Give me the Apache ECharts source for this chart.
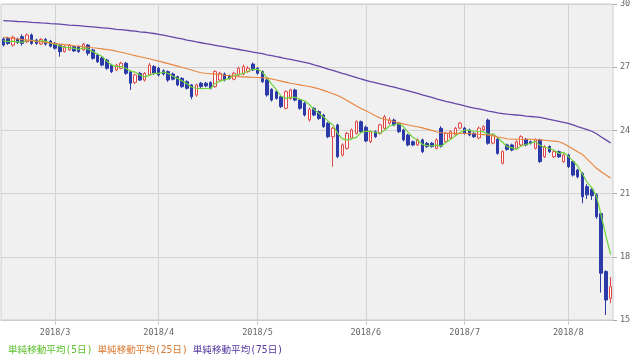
<!DOCTYPE html>
<html><head><meta charset="utf-8">
<script src="https://cdn.jsdelivr.net/npm/echarts@6/dist/echarts.min.js"></script>
<style>html,body{margin:0;padding:0;background:#fff}#c{width:633px;height:359px}</style>
</head><body><div id="c"></div>
<script>
const dates = [
'2018/2/14','2018/2/15','2018/2/16','2018/2/19','2018/2/20','2018/2/21','2018/2/22','2018/2/23','2018/2/26','2018/2/27','2018/2/28',
'2018/3/1','2018/3/2','2018/3/5','2018/3/6','2018/3/7','2018/3/8','2018/3/9','2018/3/12','2018/3/13','2018/3/14','2018/3/15','2018/3/16','2018/3/19','2018/3/20','2018/3/21','2018/3/22','2018/3/23','2018/3/26','2018/3/27','2018/3/28','2018/3/29','2018/3/30',
'2018/4/2','2018/4/3','2018/4/4','2018/4/5','2018/4/6','2018/4/9','2018/4/10','2018/4/11','2018/4/12','2018/4/13','2018/4/16','2018/4/17','2018/4/18','2018/4/19','2018/4/20','2018/4/23','2018/4/24','2018/4/25','2018/4/26','2018/4/27','2018/4/30',
'2018/5/1','2018/5/2','2018/5/3','2018/5/4','2018/5/7','2018/5/8','2018/5/9','2018/5/10','2018/5/11','2018/5/14','2018/5/15','2018/5/16','2018/5/17','2018/5/18','2018/5/21','2018/5/22','2018/5/23','2018/5/24','2018/5/25','2018/5/28','2018/5/29','2018/5/30','2018/5/31',
'2018/6/1','2018/6/4','2018/6/5','2018/6/6','2018/6/7','2018/6/8','2018/6/11','2018/6/12','2018/6/13','2018/6/14','2018/6/15','2018/6/18','2018/6/19','2018/6/20','2018/6/21','2018/6/22','2018/6/25','2018/6/26','2018/6/27','2018/6/28','2018/6/29',
'2018/7/2','2018/7/3','2018/7/4','2018/7/5','2018/7/6','2018/7/9','2018/7/10','2018/7/11','2018/7/12','2018/7/13','2018/7/16','2018/7/17','2018/7/18','2018/7/19','2018/7/20','2018/7/23','2018/7/24','2018/7/25','2018/7/26','2018/7/27','2018/7/30','2018/7/31',
'2018/8/1','2018/8/2','2018/8/3','2018/8/6','2018/8/7','2018/8/8','2018/8/9','2018/8/10','2018/8/13','2018/8/14'
];
const opens = [28.34,28.37,28.05,28.34,28.45,28.21,28.53,28.29,28.10,28.32,
28.24,28.13,28.05,27.74,27.82,27.97,27.97,27.82,28.05,27.82,
27.58,27.44,27.34,27.10,26.87,26.95,27.19,26.79,26.28,26.71,
26.39,26.63,27.03,26.95,26.83,26.79,26.68,26.55,26.47,26.31,
26.16,25.68,26.24,26.24,26.27,26.08,26.39,26.68,26.58,26.43,
26.63,26.68,26.79,27.15,26.95,26.79,26.39,25.95,25.84,25.60,
25.05,25.52,25.92,25.44,25.29,24.50,25.05,24.89,24.73,24.34,
23.70,24.26,22.83,23.15,23.63,23.86,24.41,24.15,23.47,23.94,
23.86,24.10,24.34,24.49,24.34,24.02,23.78,23.46,23.31,23.55,
23.39,23.39,23.15,24.10,23.46,23.64,23.78,24.11,24.11,24.02,
23.86,23.64,24.02,24.49,23.40,23.58,22.44,23.31,23.31,23.15,
23.31,23.58,23.46,23.15,23.55,22.75,23.23,22.75,22.99,22.52,
22.83,22.52,22.12,21.96,21.33,21.20,20.95,20.05,17.30,16.03];
const closes = [28.05,28.13,28.42,28.18,28.13,28.53,28.13,28.13,28.32,28.10,
28.00,27.90,27.74,27.97,28.05,27.77,27.74,28.09,27.66,27.42,
27.26,27.10,26.95,26.79,27.10,27.19,26.71,26.24,26.63,26.39,
26.71,27.10,26.71,26.63,26.68,26.39,26.43,26.16,26.08,26.00,
25.60,26.16,26.08,26.11,26.00,26.79,26.71,26.39,26.47,26.71,
26.95,27.03,26.95,26.87,26.71,26.31,25.68,25.44,25.52,25.13,
25.84,25.92,25.44,25.05,24.73,25.00,24.73,24.57,24.18,23.70,
24.10,22.75,23.31,23.86,24.02,24.41,23.94,23.50,23.94,23.70,
24.26,24.65,24.49,24.26,23.94,23.55,23.31,23.31,23.55,22.99,
23.23,23.23,23.55,23.25,23.86,23.94,24.10,24.34,23.86,23.78,
23.70,24.11,24.18,23.39,23.78,22.91,22.99,23.10,23.07,23.46,
23.70,23.31,23.39,23.55,22.52,23.23,22.99,22.99,22.75,22.83,
22.28,21.88,21.80,20.85,20.94,20.90,19.90,17.22,15.95,16.58];
const highs = [28.42,28.45,28.50,28.40,28.56,28.60,28.60,28.35,28.38,28.38,
28.30,28.20,28.10,28.04,28.10,28.02,28.03,28.15,28.10,27.88,
27.63,27.50,27.40,27.16,27.16,27.26,27.25,26.85,26.70,26.78,
26.77,27.20,27.10,27.02,26.90,26.85,26.75,26.60,26.52,26.38,
26.20,26.22,26.30,26.30,26.33,26.86,26.78,26.75,26.65,26.78,
27.02,27.12,27.05,27.22,27.00,26.85,26.45,26.00,25.90,25.66,
25.90,25.98,25.98,25.50,25.35,25.08,25.10,24.95,24.79,24.40,
24.16,24.32,23.38,23.93,24.09,24.48,24.47,24.22,24.00,24.00,
24.32,24.74,24.62,24.56,24.40,24.08,23.84,23.52,23.62,23.61,
23.45,23.45,23.62,24.20,23.93,24.00,24.17,24.40,24.17,24.08,
23.92,24.18,24.25,24.56,23.85,23.64,23.05,23.37,23.37,23.53,
23.77,23.64,23.52,23.62,23.61,23.30,23.29,23.05,23.05,22.90,
22.89,22.58,22.18,22.02,21.45,21.30,21.02,20.12,17.36,17.04];
const lows = [27.98,28.06,27.98,28.10,28.02,28.15,28.06,28.06,28.05,28.02,
27.94,27.84,27.50,27.70,27.78,27.72,27.68,27.78,27.55,27.36,
27.20,27.04,26.88,26.72,26.82,26.90,26.64,25.92,26.20,26.34,
26.32,26.58,26.64,26.56,26.60,26.30,26.37,26.10,26.02,25.94,
25.48,25.60,26.02,26.05,25.94,26.02,26.34,26.33,26.41,26.38,
26.58,26.62,26.74,26.82,26.65,26.25,25.60,25.37,25.46,25.06,
25.00,25.46,25.38,24.98,24.66,24.42,24.67,24.50,24.12,23.63,
22.28,22.68,22.76,23.08,23.56,23.80,23.88,23.44,23.40,23.64,
23.80,24.04,24.28,24.20,23.88,23.48,23.24,23.25,23.26,22.92,
23.17,23.18,23.10,23.18,23.40,23.58,23.72,24.06,23.80,23.72,
23.64,23.58,23.96,23.32,23.34,22.85,22.38,23.04,23.01,23.09,
23.25,23.25,23.33,23.09,22.45,22.69,22.93,22.69,22.69,22.46,
22.21,21.81,21.72,20.54,20.75,20.70,19.80,16.30,15.24,15.80];
const ma5 = [28.25,28.22,28.24,28.20,28.18,28.28,28.28,28.22,28.25,28.24,
28.14,28.09,28.01,27.94,27.93,27.89,27.85,27.92,27.86,27.74,
27.63,27.51,27.28,27.10,27.04,27.03,26.95,26.81,26.77,26.63,
26.54,26.61,26.71,26.71,26.77,26.70,26.57,26.46,26.35,26.21,
26.05,26.00,25.98,25.99,25.99,26.23,26.34,26.40,26.47,26.61,
26.65,26.71,26.82,26.90,26.90,26.77,26.50,26.20,25.93,25.62,
25.52,25.57,25.57,25.48,25.40,25.23,24.99,24.82,24.64,24.44,
24.26,23.86,23.61,23.54,23.61,23.67,23.91,23.95,23.96,23.90,
23.87,24.01,24.21,24.27,24.32,24.18,23.91,23.67,23.53,23.34,
23.28,23.26,23.31,23.25,23.42,23.57,23.74,23.90,24.02,24.00,
23.96,23.96,23.93,23.83,23.83,23.67,23.45,23.23,23.17,23.11,
23.26,23.33,23.39,23.48,23.29,23.20,23.14,23.06,22.90,22.96,
22.77,22.55,22.31,21.93,21.55,21.27,20.88,19.96,18.98,18.11];
const ma25 = [28.42,28.40,28.37,28.34,28.31,28.29,28.26,28.23,28.20,28.18,
28.15,28.12,28.10,28.07,28.05,28.02,28.00,27.97,27.95,27.92,
27.90,27.87,27.84,27.81,27.76,27.71,27.66,27.60,27.55,27.50,
27.45,27.40,27.34,27.29,27.23,27.17,27.11,27.05,26.99,26.93,
26.87,26.80,26.74,26.71,26.69,26.67,26.64,26.62,26.60,26.57,
26.55,26.54,26.53,26.52,26.51,26.50,26.48,26.44,26.39,26.34,
26.29,26.24,26.20,26.16,26.12,26.08,26.03,25.98,25.90,25.82,
25.74,25.66,25.55,25.42,25.29,25.16,25.04,24.93,24.82,24.70,
24.59,24.53,24.48,24.42,24.36,24.31,24.26,24.21,24.17,24.12,
24.06,24.00,23.94,23.89,23.87,23.86,23.86,23.85,23.85,23.85,
23.84,23.82,23.80,23.78,23.74,23.69,23.65,23.60,23.58,23.58,
23.58,23.58,23.58,23.57,23.55,23.53,23.51,23.49,23.46,23.38,
23.25,23.12,22.99,22.86,22.64,22.42,22.20,22.04,21.88,21.74];
const ma75 = [29.21,29.20,29.19,29.17,29.16,29.15,29.13,29.12,29.10,29.09,
29.07,29.06,29.04,29.02,29.00,28.99,28.97,28.95,28.93,28.91,
28.89,28.87,28.85,28.83,28.80,28.78,28.76,28.73,28.71,28.68,
28.66,28.63,28.60,28.56,28.52,28.47,28.43,28.38,28.34,28.29,
28.25,28.20,28.16,28.12,28.08,28.04,28.00,27.96,27.92,27.88,
27.84,27.80,27.76,27.72,27.68,27.64,27.59,27.55,27.50,27.46,
27.41,27.37,27.32,27.28,27.23,27.18,27.11,27.05,26.98,26.91,
26.85,26.78,26.71,26.65,26.58,26.51,26.44,26.38,26.32,26.27,
26.21,26.16,26.10,26.05,25.99,25.94,25.88,25.82,25.76,25.69,
25.63,25.57,25.50,25.44,25.38,25.33,25.27,25.22,25.16,25.11,
25.06,25.02,24.97,24.92,24.88,24.83,24.80,24.77,24.75,24.73,
24.71,24.68,24.66,24.64,24.62,24.57,24.52,24.48,24.43,24.38,
24.33,24.26,24.18,24.11,24.04,23.96,23.84,23.69,23.55,23.40];
const yTicks = [15, 18, 21, 24, 27, 30];
const seriesNames = ['単純移動平均(5日)', '単純移動平均(25日)', '単純移動平均(75日)'];

const monthStart = new Set();
dates.forEach((d, i) => {
  const m = d.split('/')[1];
  if (i > 0 && dates[i - 1].split('/')[1] !== m) monthStart.add(i);
});
const isMonth = (i) => monthStart.has(i);
const kdata = dates.map((d, i) => [opens[i], closes[i], lows[i], highs[i]]);

const monoFont = "'DejaVu Sans Mono', monospace";
const legendFont = "'DejaVu Sans Mono', 'Noto Sans CJK JP', sans-serif";
const C_GREEN = '#6fd43a', C_ORANGE = '#e8843c', C_PURPLE = '#6446a8';

const chart = echarts.init(document.getElementById('c'), null, {renderer: 'canvas'});
chart.setOption({
  animation: false,
  backgroundColor: '#ffffff',
  grid: {left: 1, right: 20, top: 4, bottom: 39, show: true, backgroundColor: '#f0f0f0', borderColor: '#cccccc', borderWidth: 1, containLabel: false, outerBoundsMode: 'none'},
  legend: {
    left: -2, top: 339, icon: 'none', itemWidth: 0, itemHeight: 12, itemGap: 0,
    textStyle: {fontSize: 9.6, fontFamily: legendFont},
    data: [
      {name: seriesNames[0], textStyle: {color: '#5cc02a'}},
      {name: seriesNames[1], textStyle: {color: '#d9772e'}},
      {name: seriesNames[2], textStyle: {color: '#55369c'}}
    ]
  },
  xAxis: {
    type: 'category', data: dates, boundaryGap: true,
    axisLine: {show: true, lineStyle: {color: '#cccccc'}},
    axisTick: {show: true, alignWithLabel: true, interval: (i) => isMonth(i), length: 5, lineStyle: {color: '#cccccc'}},
    axisLabel: {interval: (i) => isMonth(i), formatter: (v) => v.split('/').slice(0, 2).join('/'), fontSize: 8.5, color: '#666', fontFamily: monoFont, margin: 8},
    splitLine: {show: true, alignWithLabel: true, interval: (i) => isMonth(i), lineStyle: {color: '#d2d2d2', width: 1}}
  },
  yAxis: {
    type: 'value', position: 'right', min: yTicks[0], max: yTicks[yTicks.length - 1], interval: 3,
    axisLine: {show: false},
    axisTick: {show: true, length: 4, lineStyle: {color: '#aaaaaa'}},
    axisLabel: {fontSize: 8.5, color: '#666', fontFamily: monoFont, margin: 7},
    splitLine: {show: true, lineStyle: {color: '#d2d2d2', width: 1}}
  },
  series: [
    {type: 'candlestick', name: 'k', data: kdata, barWidth: 3,
     itemStyle: {color: '#ffffff', color0: '#2b3aa6', borderColor: '#e04848', borderColor0: '#2b3aa6', borderWidth: 1}},
    {type: 'line', name: seriesNames[0], data: ma5, symbol: 'none', lineStyle: {color: C_GREEN, width: 1.2}, itemStyle: {color: C_GREEN}},
    {type: 'line', name: seriesNames[1], data: ma25, symbol: 'none', lineStyle: {color: C_ORANGE, width: 1.1}, itemStyle: {color: C_ORANGE}},
    {type: 'line', name: seriesNames[2], data: ma75, symbol: 'none', lineStyle: {color: C_PURPLE, width: 1.3}, itemStyle: {color: C_PURPLE}}
  ]
});
</script></body></html>
